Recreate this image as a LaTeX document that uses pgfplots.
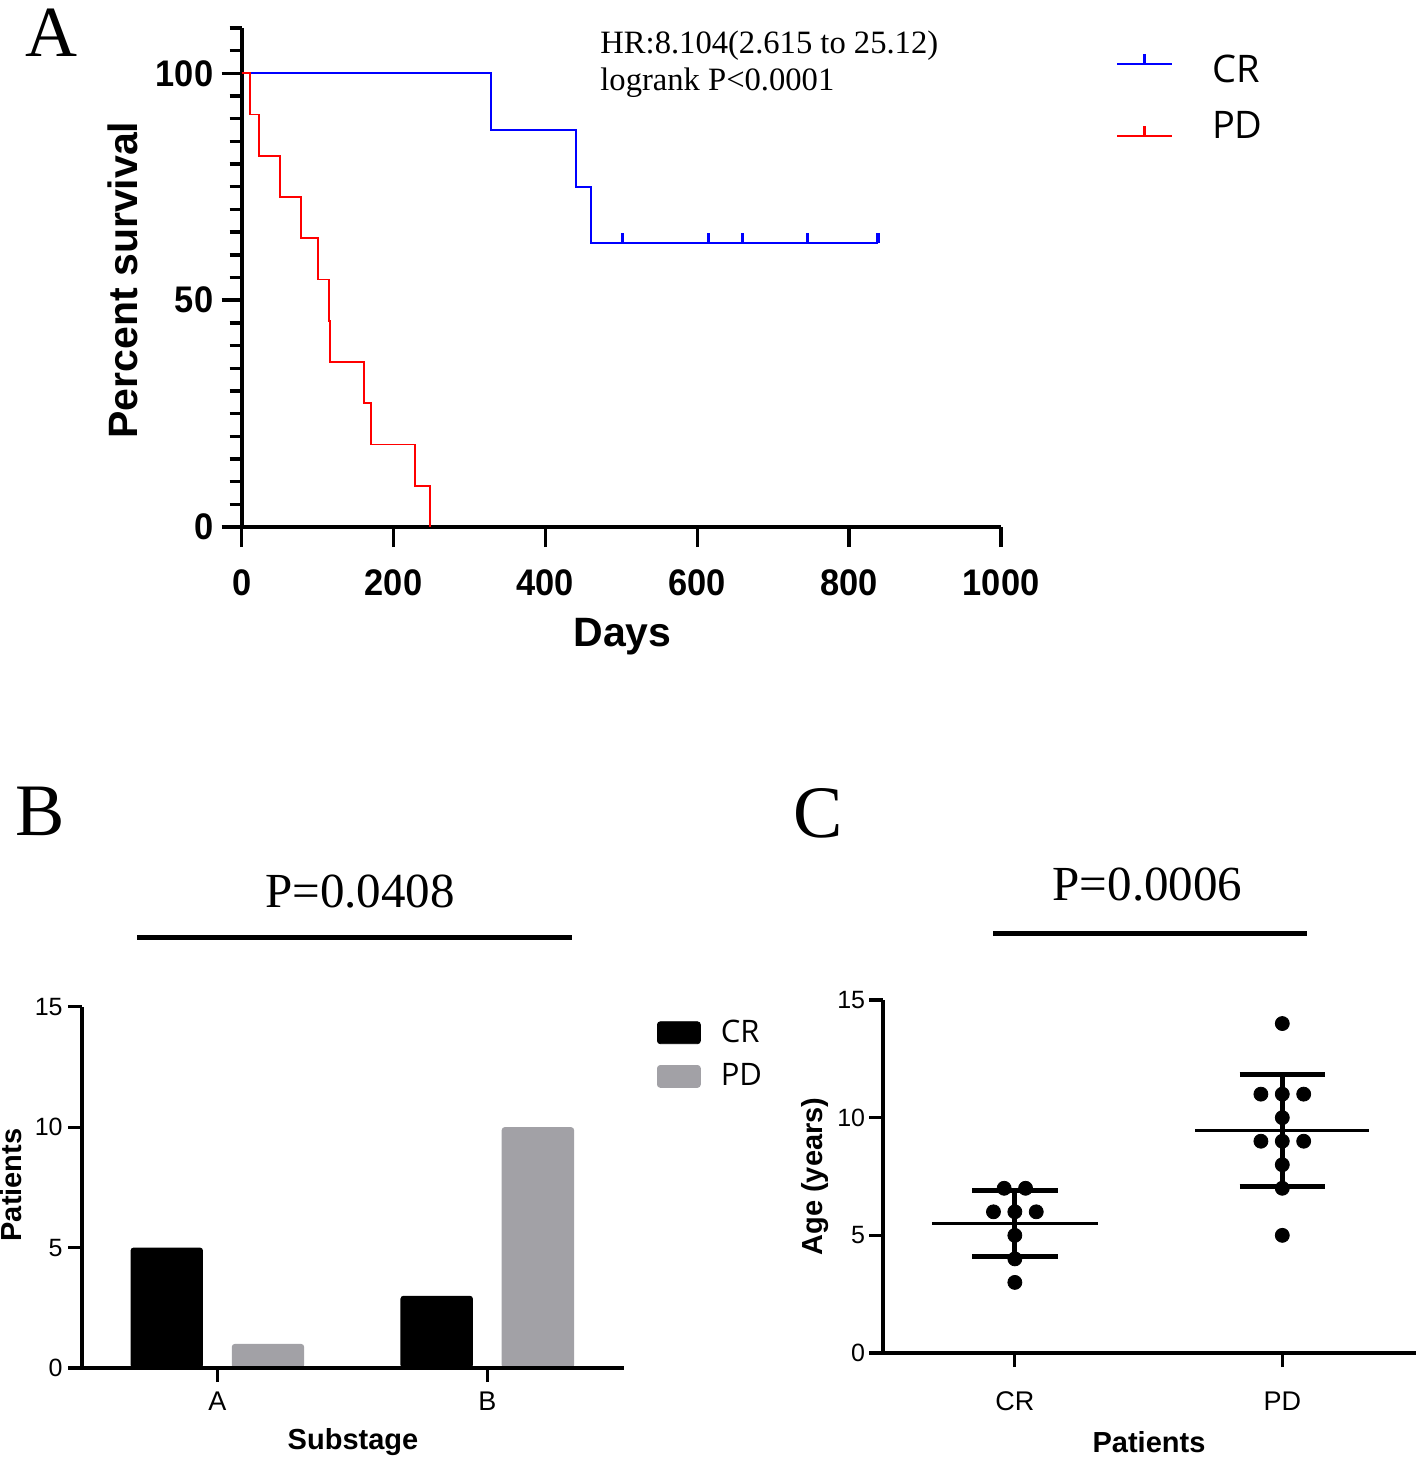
\documentclass[border=0pt]{standalone}
\usepackage{fontspec}
\setmainfont{Liberation Sans}
\newfontfamily\serif{Liberation Serif}
\newfontfamily\osans{Open Sans}
\usepackage{pgfplots}
\usepackage{pgfplotstable}
\pgfplotsset{compat=1.18}
\definecolor{kmblue}{RGB}{0,0,255}
\definecolor{kmred}{RGB}{255,0,0}
\definecolor{bargray}{RGB}{162,161,166}
\pgfdeclareplotmark{censor}{\pgfpathmoveto{\pgfpointorigin}\pgfpathlineto{\pgfpoint{0pt}{\pgfplotmarksize}}\pgfusepathqstroke}

\pgfplotstableread{
x y
-0.04 7
0.04 7
-0.08 6
0 6
0.08 6
0 5
0 4
0 3
}\crdata
\pgfplotstableread{
x y
1 14
0.92 11
1 11
1.08 11
1 10
0.92 9
1 9
1.08 9
1 8
1 7
1 5
}\pddata

\begin{document}
\begin{tikzpicture}
\path[use as bounding box] (0,0) rectangle (708pt,-730pt);

% ---------------- Panel A ----------------
\begin{axis}[
  at={(120.85pt,-263.5pt)}, anchor=south west, scale only axis,
  width=379.65pt, height=249.5pt,
  xmin=0, xmax=1000, ymin=0, ymax=110,
  axis x line*=bottom, axis y line*=left,
  x axis line style={line width=2.4pt,-},
  y axis line style={line width=2pt,-},
  xtick={0,200,400,600,800,1000},
  ytick={0,50,100},
  minor ytick={5,10,15,20,25,30,35,40,45,55,60,65,70,75,80,85,90,95,105,110},
  tick align=outside,
  major tick length=10pt, minor tick length=6pt,
  tick style={black, line width=1.7pt},
  /pgf/number format/assume math mode=true,
  /pgf/number format/1000 sep={},
  tick label style={font=\fontsize{18.5}{20}\selectfont\bfseries, inner sep=0pt, xscale=0.93},
  xticklabel style={anchor=base, yshift=-24pt},
  yticklabel style={anchor=east, xshift=-4.35pt},
  xlabel={Days}, ylabel={Percent survival},
  label style={font=\fontsize{20.5}{22}\selectfont\bfseries, inner sep=0pt},
  xlabel style={at={(axis description cs:0.5014,-0.2399)}, anchor=base},
  ylabel style={at={(axis description cs:-0.1563,0.495)}, anchor=center},
  legend style={at={(axis description cs:1.1528,0.9459)}, anchor=north west,
    draw=none, fill=none, inner sep=0pt, outer sep=0pt,
    row sep=12.9pt, column sep=20pt,
    font=\osans\fontsize{19}{22}\selectfont,
    nodes={inner sep=0pt}, cells={anchor=west}},
]
\addplot[const plot, kmblue, line width=1pt, forget plot] coordinates
  {(0,100) (328,87.5) (440,75) (460,62.5) (838,62.5)};
\addplot[only marks, mark=censor, mark size=5.25pt, mark options={kmblue, line width=1.6pt}, forget plot] coordinates
  {(502,62.5) (615,62.5) (660,62.5) (745,62.5) (838,62.5)};
\addplot[const plot, kmred, line width=0.9pt, forget plot] coordinates
  {(0,100) (11,90.91) (23,81.82) (50,72.73) (78,63.64) (100,54.55) (115,45.45) (116,36.36) (161,27.27) (170,18.18) (228,9.09) (248,0)};
\addlegendimage{legend image code/.code={
  \draw[overlay, kmblue, line width=1pt] (0pt,3.25pt) -- (27.5pt,3.25pt);
  \draw[overlay, kmblue, line width=1.8pt] (13.75pt,3.25pt) -- (13.75pt,8.25pt);
  \path[draw=none, fill=none] (0pt,0pt) -- (27.5pt,0pt);}}
\addlegendentry{CR}
\addlegendimage{legend image code/.code={
  \draw[overlay, kmred, line width=1pt] (0pt,-4.85pt) -- (27.5pt,-4.85pt);
  \draw[overlay, kmred, line width=1.8pt] (13.75pt,-4.85pt) -- (13.75pt,0.15pt);
  \path[draw=none, fill=none] (0pt,0pt) -- (27.5pt,0pt);}}
\addlegendentry{PD}
\end{axis}

% ---------------- Panel B ----------------
\begin{axis}[
  at={(41.2pt,-684pt)}, anchor=south west, scale only axis,
  width=270.6pt, height=180.65pt,
  xmin=-0.5, xmax=1.505, ymin=0, ymax=15,
  axis x line*=bottom, axis y line*=left,
  axis line style={line width=2pt,-},
  axis on top,
  xtick={0,1}, xticklabels={A,B},
  ytick={0,5,10,15},
  tick align=outside, major tick length=7pt,
  tick style={black, line width=1.6pt},
  /pgf/number format/assume math mode=true,
  tick label style={font=\fontsize{12.5}{14}\selectfont, inner sep=0pt},
  xticklabel style={anchor=base, yshift=-14pt, font=\fontsize{13.5}{15}\selectfont},
  yticklabel style={anchor=east, xshift=-2.7pt},
  xlabel={Substage}, ylabel={Patients},
  label style={font=\fontsize{14.5}{16}\selectfont\bfseries, inner sep=0pt},
  xlabel style={at={(axis description cs:0.5,-0.2242)}, anchor=base},
  ylabel style={at={(axis description cs:-0.131,0.5065)}, anchor=center},
  legend style={at={(axis description cs:1.0617,0.9632)}, anchor=north west,
    draw=none, fill=none, inner sep=0pt, outer sep=0pt,
    row sep=9.2pt, column sep=10pt,
    font=\osans\fontsize{15.5}{18}\selectfont,
    nodes={inner sep=0pt}, cells={anchor=west}},
]
\addplot[ybar, bar width=36.2pt, bar shift=-25.3pt, fill=black, draw=none, rounded corners=1.5pt, forget plot]
  coordinates {(0,5) (1,3)};
\addplot[ybar, bar width=36.2pt, bar shift=25.3pt, fill=bargray, draw=none, rounded corners=1.5pt, forget plot]
  coordinates {(0,1) (1,10)};
\addlegendimage{legend image code/.code={
  \fill[black, rounded corners=1.5pt] (0pt,-5.5pt) rectangle (21.5pt,5.5pt);}}
\addlegendentry{CR}
\addlegendimage{legend image code/.code={
  \fill[bargray, rounded corners=1.5pt] (0pt,-5.5pt) rectangle (21.5pt,5.5pt);}}
\addlegendentry{PD}
\end{axis}

% ---------------- Panel C ----------------
\begin{axis}[
  at={(441.5pt,-676.5pt)}, anchor=south west, scale only axis,
  width=266.5pt, height=176.5pt,
  xmin=-0.493, xmax=1.5, ymin=0, ymax=15,
  axis x line*=bottom, axis y line*=left,
  axis line style={line width=2.2pt,-},
  xtick={0,1}, xticklabels={CR,PD},
  ytick={0,5,10,15},
  tick align=outside, major tick length=7pt,
  tick style={black, line width=1.6pt},
  /pgf/number format/assume math mode=true,
  tick label style={font=\fontsize{12.5}{14}\selectfont, inner sep=0pt},
  xticklabel style={anchor=base, yshift=-21.5pt, font=\fontsize{13.5}{15}\selectfont},
  yticklabel style={anchor=east, xshift=-1.75pt},
  xlabel={Patients}, ylabel={Age (years)},
  label style={font=\fontsize{14.5}{16}\selectfont\bfseries, inner sep=0pt},
  xlabel style={at={(axis description cs:0.499,-0.2805)}, anchor=base},
  ylabel style={at={(axis description cs:-0.1276,0.5)}, anchor=center},
]
\addplot[black, line width=1.6pt] coordinates {(-0.31,5.5) (0.31,5.5)};
\addplot[black, line width=2.5pt] coordinates {(0,4.086) (0,6.914)};
\addplot[black, line width=2.5pt] coordinates {(-0.16,4.086) (0.16,4.086)};
\addplot[black, line width=2.5pt] coordinates {(-0.16,6.914) (0.16,6.914)};
\addplot[black, line width=1.6pt] coordinates {(0.675,9.455) (1.325,9.455)};
\addplot[black, line width=2.5pt] coordinates {(1,7.073) (1,11.836)};
\addplot[black, line width=2.5pt] coordinates {(0.84,7.073) (1.16,7.073)};
\addplot[black, line width=2.5pt] coordinates {(0.84,11.836) (1.16,11.836)};
\addplot[only marks, mark=*, mark size=3.5pt, black] table[x=x,y=y] {\crdata};
\addplot[only marks, mark=*, mark size=3.5pt, black] table[x=x,y=y] {\pddata};
\end{axis}

% ---------------- Annotations ----------------
\begin{scope}[x=0.5pt,y=-0.5pt]
\node[anchor=base west, inner sep=0pt, font=\serif\fontsize{36}{40}\selectfont] at (25,57) {A};
\node[anchor=base west, inner sep=0pt, font=\serif\fontsize{37}{40}\selectfont] at (15,835) {B};
\node[anchor=base west, inner sep=0pt, font=\serif\fontsize{37}{40}\selectfont] at (793,837) {C};
\node[anchor=base west, inner sep=0pt, font=\serif\fontsize{16.3}{18}\selectfont] at (600,54) {HR:8.104(2.615 to 25.12)};
\node[anchor=base west, inner sep=0pt, font=\serif\fontsize{16.3}{18}\selectfont] at (600,91) {logrank P<0.0001};
\node[anchor=base, inner sep=0pt, font=\serif\fontsize{24.5}{26}\selectfont] at (360,907) {P=0.0408};
\draw[line width=2.5pt] (137,937) -- (572,937);
\node[anchor=base, inner sep=0pt, font=\serif\fontsize{24.5}{26}\selectfont] at (1147.5,900) {P=0.0006};
\draw[line width=2.5pt] (993,933) -- (1307,933);
\end{scope}
\end{tikzpicture}
\end{document}
